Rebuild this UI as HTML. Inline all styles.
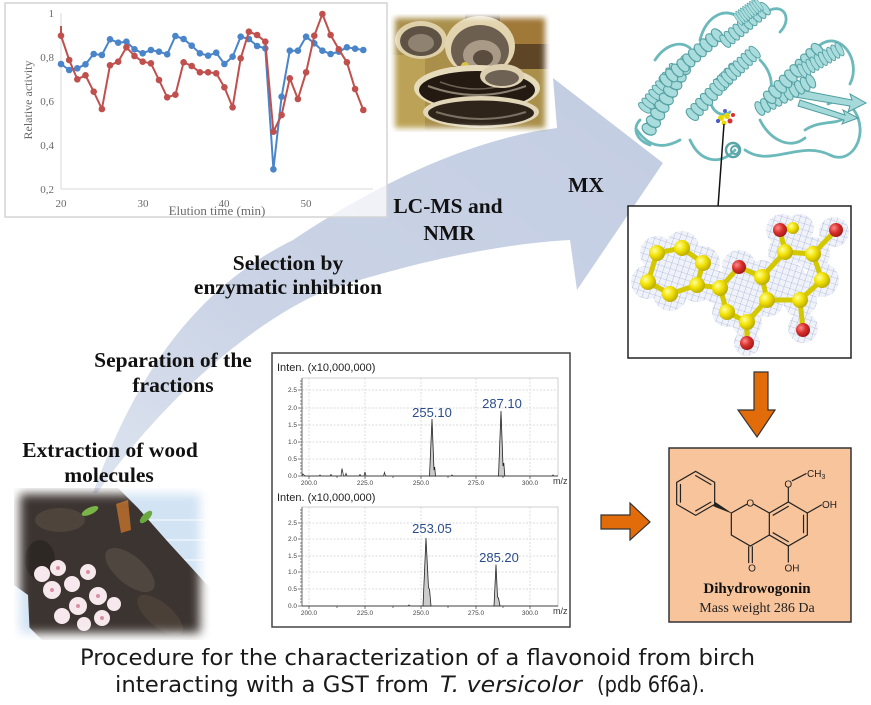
<!DOCTYPE html>
<html><head><meta charset="utf-8"><style>
html,body{margin:0;padding:0;background:#fff;}
svg{display:block;}
</style></head><body>
<svg width="871" height="705" viewBox="0 0 871 705" xmlns="http://www.w3.org/2000/svg">
<defs>
  <linearGradient id="bandg" x1="0" y1="1" x2="1" y2="0">
    <stop offset="0" stop-color="#dde4f0"/>
    <stop offset="0.35" stop-color="#cbd4e6"/>
    <stop offset="1" stop-color="#c3cde2"/>
  </linearGradient>
  <filter id="blur5" x="-20%" y="-20%" width="140%" height="140%"><feGaussianBlur stdDeviation="5"/></filter>
  <filter id="blur3" x="-20%" y="-20%" width="140%" height="140%"><feGaussianBlur stdDeviation="3"/></filter>
  <mask id="treemask"><rect x="20" y="494" width="180" height="139" fill="#fff" filter="url(#blur5)"/></mask>
  <mask id="mushmask"><rect x="395" y="18" width="150" height="110" fill="#fff" filter="url(#blur3)"/></mask>
  <radialGradient id="yb" cx="0.35" cy="0.35" r="0.7">
    <stop offset="0" stop-color="#ffff9a"/><stop offset="0.5" stop-color="#f0e000"/><stop offset="1" stop-color="#b8a800"/>
  </radialGradient>
  <radialGradient id="rb" cx="0.35" cy="0.35" r="0.7">
    <stop offset="0" stop-color="#ff8a8a"/><stop offset="0.5" stop-color="#d8302c"/><stop offset="1" stop-color="#a01818"/>
  </radialGradient>
  <pattern id="mesh" width="6" height="6" patternUnits="userSpaceOnUse" patternTransform="rotate(18)">
    <path d="M0,0 L6,0 M0,0 L0,6" stroke="#8d9bc6" stroke-width="0.6" fill="none"/>
  </pattern>
  <clipPath id="meshclip">
    <circle cx="657" cy="253" r="17"/><circle cx="682" cy="248" r="17"/><circle cx="703" cy="263" r="17"/>
    <circle cx="697" cy="285" r="17"/><circle cx="670" cy="294" r="17"/><circle cx="648" cy="282" r="17"/>
    <circle cx="675" cy="270" r="17"/><circle cx="720" cy="288" r="17"/><circle cx="739" cy="267" r="17"/>
    <circle cx="727" cy="312" r="15"/><circle cx="747" cy="322" r="15"/><circle cx="747" cy="343" r="13"/>
    <circle cx="767" cy="300" r="17"/><circle cx="762" cy="277" r="17"/><circle cx="785" cy="252" r="17"/>
    <circle cx="782" cy="230" r="16"/><circle cx="800" cy="228" r="14"/><circle cx="813" cy="254" r="17"/>
    <circle cx="834" cy="232" r="15"/><circle cx="822" cy="280" r="17"/><circle cx="800" cy="300" r="17"/>
    <circle cx="803" cy="328" r="15"/><circle cx="790" cy="280" r="17"/><circle cx="740" cy="295" r="17"/>
  </clipPath>
  <g id="hx">
    <rect x="0" y="2" width="60" height="12" fill="#9fd6d6"/>
    <ellipse cx="3" cy="8" rx="3.6" ry="7.5" fill="#a9dcdc" stroke="#56a1a4" stroke-width="1"/>
    <ellipse cx="9" cy="8" rx="3.6" ry="7.5" fill="#a9dcdc" stroke="#56a1a4" stroke-width="1"/>
    <ellipse cx="15" cy="8" rx="3.6" ry="7.5" fill="#a9dcdc" stroke="#56a1a4" stroke-width="1"/>
    <ellipse cx="21" cy="8" rx="3.6" ry="7.5" fill="#a9dcdc" stroke="#56a1a4" stroke-width="1"/>
    <ellipse cx="27" cy="8" rx="3.6" ry="7.5" fill="#a9dcdc" stroke="#56a1a4" stroke-width="1"/>
    <ellipse cx="33" cy="8" rx="3.6" ry="7.5" fill="#a9dcdc" stroke="#56a1a4" stroke-width="1"/>
    <ellipse cx="39" cy="8" rx="3.6" ry="7.5" fill="#a9dcdc" stroke="#56a1a4" stroke-width="1"/>
    <ellipse cx="45" cy="8" rx="3.6" ry="7.5" fill="#a9dcdc" stroke="#56a1a4" stroke-width="1"/>
    <ellipse cx="51" cy="8" rx="3.6" ry="7.5" fill="#a9dcdc" stroke="#56a1a4" stroke-width="1"/>
    <ellipse cx="57" cy="8" rx="3.6" ry="7.5" fill="#a9dcdc" stroke="#56a1a4" stroke-width="1"/>
  </g>
</defs>

<!-- Big curved arrow band -->
<path d="M93,493 C120,420 170,300 293,240 C360,195 460,140 557,128 L553,78 L663,163 L577,290 L570,240 C480,245 390,270 327,290 C260,318 170,390 97,493 Z" fill="url(#bandg)"/>

<!-- Top-left chart box -->
<rect x="5" y="3" width="382" height="214" fill="#fff" fill-opacity="0.72" stroke="#d4d4d4" stroke-width="1.5"/>
<g font-family="'Liberation Serif', serif" fill="#6a6a6a">
  <line x1="61" y1="13" x2="61" y2="189" stroke="#d9d9d9" stroke-width="1"/>
  <line x1="61" y1="189" x2="373" y2="189" stroke="#d9d9d9" stroke-width="1"/>
  <g font-size="11" text-anchor="end">
    <text x="54" y="17">1</text>
    <text x="54" y="61">0,8</text>
    <text x="54" y="105">0,6</text>
    <text x="54" y="149">0,4</text>
    <text x="54" y="193">0,2</text>
  </g>
  <g font-size="11" text-anchor="middle">
    <text x="61" y="207">20</text>
    <text x="143" y="207">30</text>
    <text x="224" y="207">40</text>
    <text x="306" y="207">50</text>
  </g>
  <text x="217" y="215" font-size="13" text-anchor="middle">Elution time (min)</text>
  <text transform="translate(32,100) rotate(-90)" font-size="12" text-anchor="middle">Relative activity</text>
</g>
<g fill="none" stroke-width="2" stroke-linejoin="round">
  <polyline stroke="#4a84c9" points="61,64 69.2,70 77.3,68.3 85.5,64.3 93.7,54 101.9,55 110,39.3 118.2,42.7 126.4,41.7 134.5,49.3 142.7,53.3 150.9,50 159,51.7 167.2,54.3 175.4,36 183.6,39 191.7,45.7 199.9,53.3 208.1,55.7 216.2,52.7 224.4,64 232.6,56.7 240.7,36.7 248.9,39 257.1,46 265.3,48.3 273.4,169.3 281.6,96.7 289.8,50.7 297.9,50.7 306.1,36.7 314.3,43.3 322.4,50.7 330.6,54 338.8,51.7 346.9,47.3 355.1,48.7 363.3,50"/>
</g>
<g fill="#4a84c9">
  <circle cx="61" cy="64" r="3.3"/><circle cx="69.2" cy="70" r="3.3"/><circle cx="77.3" cy="68.3" r="3.3"/><circle cx="85.5" cy="64.3" r="3.3"/><circle cx="93.7" cy="54" r="3.3"/><circle cx="101.9" cy="55" r="3.3"/><circle cx="110" cy="39.3" r="3.3"/><circle cx="118.2" cy="42.7" r="3.3"/><circle cx="126.4" cy="41.7" r="3.3"/><circle cx="134.5" cy="49.3" r="3.3"/><circle cx="142.7" cy="53.3" r="3.3"/><circle cx="150.9" cy="50" r="3.3"/><circle cx="159" cy="51.7" r="3.3"/><circle cx="167.2" cy="54.3" r="3.3"/><circle cx="175.4" cy="36" r="3.3"/><circle cx="183.6" cy="39" r="3.3"/><circle cx="191.7" cy="45.7" r="3.3"/><circle cx="199.9" cy="53.3" r="3.3"/><circle cx="208.1" cy="55.7" r="3.3"/><circle cx="216.2" cy="52.7" r="3.3"/><circle cx="224.4" cy="64" r="3.3"/><circle cx="232.6" cy="56.7" r="3.3"/><circle cx="240.7" cy="36.7" r="3.3"/><circle cx="248.9" cy="39" r="3.3"/><circle cx="257.1" cy="46" r="3.3"/><circle cx="265.3" cy="48.3" r="3.3"/><circle cx="273.4" cy="169.3" r="3.3"/><circle cx="281.6" cy="96.7" r="3.3"/><circle cx="289.8" cy="50.7" r="3.3"/><circle cx="297.9" cy="50.7" r="3.3"/><circle cx="306.1" cy="36.7" r="3.3"/><circle cx="314.3" cy="43.3" r="3.3"/><circle cx="322.4" cy="50.7" r="3.3"/><circle cx="330.6" cy="54" r="3.3"/><circle cx="338.8" cy="51.7" r="3.3"/><circle cx="346.9" cy="47.3" r="3.3"/><circle cx="355.1" cy="48.7" r="3.3"/><circle cx="363.3" cy="50" r="3.3"/>
</g>
<g fill="none" stroke-width="2" stroke-linejoin="round">
  <polyline stroke="#c0504d" points="61,26 61,35.7 69.2,60 77.3,79.3 85.5,75.3 93.7,91.7 101.9,109 110,65.3 118.2,61.7 126.4,47.3 134.5,56 142.7,61.7 150.9,63.3 159,80 167.2,97.3 175.4,94.7 183.6,62.3 191.7,66 199.9,72.3 208.1,72.3 216.2,73.3 224.4,87.3 232.6,107.3 240.7,58.3 248.9,31.7 257.1,35 265.3,41.7 273.4,131.7 281.6,115 289.8,78.3 297.9,99 306.1,72.3 314.3,35.7 322.4,14 330.6,35 338.8,49.3 346.9,62.3 355.1,89 363.3,110"/>
</g>
<g fill="#c0504d">
  <circle cx="61" cy="35.7" r="3.3"/><circle cx="69.2" cy="60" r="3.3"/><circle cx="77.3" cy="79.3" r="3.3"/><circle cx="85.5" cy="75.3" r="3.3"/><circle cx="93.7" cy="91.7" r="3.3"/><circle cx="101.9" cy="109" r="3.3"/><circle cx="110" cy="65.3" r="3.3"/><circle cx="118.2" cy="61.7" r="3.3"/><circle cx="126.4" cy="47.3" r="3.3"/><circle cx="134.5" cy="56" r="3.3"/><circle cx="142.7" cy="61.7" r="3.3"/><circle cx="150.9" cy="63.3" r="3.3"/><circle cx="159" cy="80" r="3.3"/><circle cx="167.2" cy="97.3" r="3.3"/><circle cx="175.4" cy="94.7" r="3.3"/><circle cx="183.6" cy="62.3" r="3.3"/><circle cx="191.7" cy="66" r="3.3"/><circle cx="199.9" cy="72.3" r="3.3"/><circle cx="208.1" cy="72.3" r="3.3"/><circle cx="216.2" cy="73.3" r="3.3"/><circle cx="224.4" cy="87.3" r="3.3"/><circle cx="232.6" cy="107.3" r="3.3"/><circle cx="240.7" cy="58.3" r="3.3"/><circle cx="248.9" cy="31.7" r="3.3"/><circle cx="257.1" cy="35" r="3.3"/><circle cx="265.3" cy="41.7" r="3.3"/><circle cx="273.4" cy="131.7" r="3.3"/><circle cx="281.6" cy="115" r="3.3"/><circle cx="289.8" cy="78.3" r="3.3"/><circle cx="297.9" cy="99" r="3.3"/><circle cx="306.1" cy="72.3" r="3.3"/><circle cx="314.3" cy="35.7" r="3.3"/><circle cx="322.4" cy="14" r="3.3"/><circle cx="330.6" cy="35" r="3.3"/><circle cx="338.8" cy="49.3" r="3.3"/><circle cx="346.9" cy="62.3" r="3.3"/><circle cx="355.1" cy="89" r="3.3"/><circle cx="363.3" cy="110" r="3.3"/>
</g>

<!-- Mushroom photo -->
<g mask="url(#mushmask)">
  <rect x="390" y="14" width="160" height="118" fill="#a98f4a"/>
  <rect x="465" y="14" width="85" height="55" fill="#5e4526"/>
  <rect x="390" y="55" width="35" height="75" fill="#bca256"/>
  <rect x="500" y="14" width="50" height="30" fill="#a07838"/>
  <ellipse cx="421" cy="40" rx="26" ry="19" fill="#ddcfa8"/>
  <ellipse cx="421" cy="41" rx="21" ry="15" fill="#5e5244"/>
  <ellipse cx="421" cy="43" rx="13" ry="9" fill="#8f8270"/>
  <ellipse cx="480" cy="46" rx="35" ry="30" fill="#e2d4ae"/>
  <ellipse cx="480" cy="50" rx="29" ry="25" fill="#6c5f50"/>
  <ellipse cx="482" cy="55" rx="19" ry="15" fill="#a89a86"/>
  <ellipse cx="483" cy="58" rx="10" ry="8" fill="#5a4c3e"/>
  <circle cx="455" cy="72" r="6" fill="#8a4a20"/>
  <circle cx="465" cy="66" r="4" fill="#d8c040"/>
  <ellipse cx="477" cy="88" rx="63" ry="23" fill="#e6dcbc"/>
  <ellipse cx="477" cy="90" rx="58" ry="19" fill="#241a12"/>
  <path d="M428,86 Q477,104 526,86" stroke="#8a8070" stroke-width="2" fill="none"/>
  <path d="M440,82 Q477,96 514,82" stroke="#6a6050" stroke-width="1.5" fill="none"/>
  <ellipse cx="502" cy="76" rx="22" ry="12" fill="#ddd0b0"/>
  <ellipse cx="502" cy="78" rx="17" ry="8" fill="#6e6254"/>
  <ellipse cx="481" cy="112" rx="58" ry="16" fill="#e2d6b8"/>
  <ellipse cx="481" cy="113" rx="53" ry="12.5" fill="#2e241a"/>
  <path d="M436,112 Q481,126 526,112" stroke="#7a7062" stroke-width="2" fill="none"/>
</g>

<!-- Protein cartoon -->
<g>
  <g fill="none" stroke="#6cb9bc" stroke-width="2.8" stroke-linecap="round">
    <path d="M637,130 C648,146 662,150 680,140"/>
    <path d="M690,140 C700,162 720,166 735,150"/>
    <path d="M700,40 C705,20 720,8 735,15"/>
    <path d="M770,10 C785,4 792,20 780,32"/>
    <path d="M745,150 C770,168 800,140 830,155 C850,165 866,140 858,118 C852,102 840,98 828,104"/>
    <path d="M820,45 C840,30 862,60 850,84"/>
    <path d="M760,120 C770,140 790,150 805,138"/>
    <path d="M640,120 C632,128 636,140 650,145"/>
    <path d="M710,100 C712,112 722,118 730,112"/>
    <path d="M655,60 C665,45 680,40 690,48"/>
    <path d="M760,60 C770,70 775,85 768,95"/>
    <path d="M805,130 C820,120 835,125 845,118"/>
  </g>
  <circle cx="733" cy="150" r="7" fill="none" stroke="#5aa5a8" stroke-width="2.5"/>
  <circle cx="735" cy="150" r="4" fill="none" stroke="#5aa5a8" stroke-width="2"/>
  <path d="M790,88 L852,100 L850,94 L866,103 L848,112 L850,106 L788,96 Z" fill="#a6dada" stroke="#4f9da1" stroke-width="1"/>
  <path d="M800,100 L845,115 L843,110 L858,118 L842,124 L844,120 L798,106 Z" fill="#a6dada" stroke="#4f9da1" stroke-width="1"/>
  <use href="#hx" transform="translate(643,110) rotate(-51.7) scale(0.92,1) translate(0,-8)"/>
  <use href="#hx" transform="translate(647,133) rotate(-60.5) scale(1.45,1) translate(0,-8)"/>
  <use href="#hx" transform="translate(663,83) rotate(-41.3) scale(1.27,1) translate(0,-8)"/>
  <use href="#hx" transform="translate(723,43) rotate(-39.3) scale(0.95,1) translate(0,-8)"/>
  <use href="#hx" transform="translate(737,20) rotate(-36) scale(0.47,1) translate(0,-8)"/>
  <use href="#hx" transform="translate(690,117) rotate(-46.8) scale(1.15,1) translate(0,-8)"/>
  <use href="#hx" transform="translate(717,87) rotate(-42.8) scale(0.9,1) translate(0,-8)"/>
  <use href="#hx" transform="translate(757,110) rotate(-28.2) scale(1.07,1) translate(0,-8)"/>
  <use href="#hx" transform="translate(767,100) rotate(-45) scale(1.25,1) translate(0,-8)"/>
  <use href="#hx" transform="translate(800,72) rotate(-30) scale(0.8,1) translate(0,-8)"/>
  <g>
    <circle cx="721" cy="118" r="3" fill="#e8d800"/>
    <circle cx="727" cy="116" r="3" fill="#e8d800"/>
    <circle cx="730" cy="121" r="2.5" fill="#d83030"/>
    <circle cx="724" cy="123" r="2.5" fill="#e8d800"/>
    <circle cx="718" cy="121" r="2" fill="#4858c8"/>
    <circle cx="733" cy="115" r="2" fill="#d83030"/>
    <circle cx="725" cy="111" r="2" fill="#5060d0"/>
  </g>
</g>
<line x1="724" y1="124" x2="718" y2="207" stroke="#111" stroke-width="1.5"/>

<!-- Density box -->
<rect x="628" y="206" width="223" height="152" fill="#fff" stroke="#222" stroke-width="1.5"/>
<g clip-path="url(#meshclip)">
  <rect x="628" y="206" width="223" height="152" fill="#f0f2f9"/>
  <rect x="628" y="206" width="223" height="152" fill="url(#mesh)"/>
</g>
<g stroke="#d4c800" stroke-width="5" stroke-linecap="round">
  <path d="M657,253 L682,248 L703,263 L697,285 L670,294 L648,282 Z" fill="none"/>
  <path d="M697,285 L720,288 L739,267 L762,277 M720,288 L727,312 L747,322 L747,343 M747,322 L767,300 L762,277 L785,252 L780,230 L793,228 M785,252 L813,254 L836,230 M813,254 L822,280 L800,300 L803,330 M800,300 L767,300" fill="none"/>
</g>
<g>
  <circle cx="793" cy="228" r="6" fill="url(#yb)"/>
  <circle cx="657" cy="253" r="8" fill="url(#yb)"/><circle cx="682" cy="248" r="8" fill="url(#yb)"/><circle cx="703" cy="263" r="8" fill="url(#yb)"/>
  <circle cx="697" cy="285" r="8" fill="url(#yb)"/><circle cx="670" cy="294" r="8" fill="url(#yb)"/><circle cx="648" cy="282" r="8" fill="url(#yb)"/>
  <circle cx="720" cy="288" r="8" fill="url(#yb)"/><circle cx="727" cy="312" r="8" fill="url(#yb)"/><circle cx="747" cy="322" r="8" fill="url(#yb)"/>
  <circle cx="767" cy="300" r="8" fill="url(#yb)"/><circle cx="762" cy="277" r="8" fill="url(#yb)"/><circle cx="785" cy="252" r="8" fill="url(#yb)"/>
  <circle cx="813" cy="254" r="8" fill="url(#yb)"/><circle cx="822" cy="280" r="8" fill="url(#yb)"/><circle cx="800" cy="300" r="8" fill="url(#yb)"/>
  <circle cx="739" cy="267" r="7" fill="url(#rb)"/><circle cx="747" cy="343" r="7" fill="url(#rb)"/><circle cx="780" cy="230" r="7" fill="url(#rb)"/>
  <circle cx="836" cy="230" r="7" fill="url(#rb)"/><circle cx="803" cy="330" r="7" fill="url(#rb)"/>
</g>

<!-- Down orange arrow -->
<path d="M754,372 L768,372 L768,410 L775,410 L757,437 L738,410 L754,410 Z" fill="#e36c0a" stroke="#333" stroke-width="1.2"/>

<!-- Dihydrowogonin box -->
<rect x="669" y="448" width="182" height="174" fill="#f8c49b" stroke="#333" stroke-width="1.5"/>
<g transform="translate(600,440) scale(0.33333)" stroke="#222" stroke-width="3.6" fill="none" stroke-linecap="round">
  <path d="M287,94 L344,127 L344,193 L287,226 L230,193 L230,127 Z"/>
  <path d="M287,107 L332.6,133.6 M332.6,186.4 L287,212.8 M241.4,186.4 L241.4,133.6"/>
  <polygon points="394,219 346,187 341,198" fill="#222" stroke-width="1.5"/>
  <path d="M394,219 L440,193 M462,193 L508,219 M394,219 L394,285 L451,318 L508,285"/>
  <path d="M508,219 L565,186 L622,219 L622,285 L565,318 L508,285 Z"/>
  <path d="M519.4,225.6 L565,199.2 M610.6,225.6 L610.6,278.4 M565,304.8 L519.4,278.4"/>
  <path d="M446,320 L446,368 M457,320 L457,368"/>
  <path d="M565,186 L565,143 M577,122 L618,101"/>
  <path d="M622,219 L664,195"/>
  <path d="M565,318 L565,366"/>
</g>
<g font-family="'Liberation Sans', sans-serif" font-size="10" fill="#222">
  <text x="750.3" y="506.5" text-anchor="middle">O</text>
  <text x="788.3" y="487.5" text-anchor="middle">O</text>
  <text x="807" y="477">CH<tspan font-size="7" dy="2">3</tspan></text>
  <text x="822" y="508">OH</text>
  <text x="752" y="571.5" text-anchor="middle">O</text>
  <text x="792" y="571.5" text-anchor="middle">OH</text>
</g>
<text x="757" y="593" font-family="'Liberation Serif', serif" font-weight="bold" font-size="15" fill="#111" text-anchor="middle">Dihydrowogonin</text>
<text x="757" y="612" font-family="'Liberation Serif', serif" font-size="14" fill="#222" text-anchor="middle">Mass weight 286 Da</text>

<!-- Right orange arrow -->
<path d="M601,515 L630,515 L630,503 L650,522 L630,540 L630,529 L601,529 Z" fill="#e36c0a" stroke="#333" stroke-width="1.2"/>

<!-- Mass spectrum box -->
<rect x="272" y="353" width="298" height="274" fill="#fff" stroke="#444" stroke-width="1.5"/>
<g font-family="'Liberation Sans', sans-serif">
  <text x="277" y="371" font-size="11" fill="#222">Inten. (x10,000,000)</text>
  <text x="277" y="501" font-size="11" fill="#222">Inten. (x10,000,000)</text>
  <g stroke="#d0d0d0" stroke-width="0.7" stroke-dasharray="2,1.5">
    <line x1="302" y1="390" x2="558" y2="390"/><line x1="302" y1="408" x2="558" y2="408"/><line x1="302" y1="425" x2="558" y2="425"/><line x1="302" y1="442" x2="558" y2="442"/><line x1="302" y1="459" x2="558" y2="459"/>
    <line x1="309" y1="378" x2="309" y2="476"/><line x1="365" y1="378" x2="365" y2="476"/><line x1="421" y1="378" x2="421" y2="476"/><line x1="476" y1="378" x2="476" y2="476"/><line x1="530" y1="378" x2="530" y2="476"/>
    <line x1="302" y1="523" x2="558" y2="523"/><line x1="302" y1="539" x2="558" y2="539"/><line x1="302" y1="556" x2="558" y2="556"/><line x1="302" y1="572" x2="558" y2="572"/><line x1="302" y1="589" x2="558" y2="589"/>
    <line x1="309" y1="507" x2="309" y2="606"/><line x1="365" y1="507" x2="365" y2="606"/><line x1="421" y1="507" x2="421" y2="606"/><line x1="476" y1="507" x2="476" y2="606"/><line x1="530" y1="507" x2="530" y2="606"/>
  </g>
  <rect x="302" y="378" width="256" height="98" fill="none" stroke="#c4c4c4" stroke-width="0.8"/>
  <rect x="302" y="507" width="256" height="99" fill="none" stroke="#c4c4c4" stroke-width="0.8"/>
  <g stroke="#555" stroke-width="0.8">
    <line x1="302" y1="378" x2="302" y2="476"/><line x1="302" y1="476" x2="558" y2="476"/>
    <line x1="302" y1="507" x2="302" y2="606"/><line x1="302" y1="606" x2="558" y2="606"/>
    <path d="M298,390 H302 M298,408 H302 M298,425 H302 M298,442 H302 M298,459 H302 M298,476 H302 M300,381 H302 M300,384 H302 M300,387 H302 M300,394 H302 M300,397 H302 M300,401 H302 M300,404 H302 M300,411 H302 M300,415 H302 M300,418 H302 M300,421 H302 M300,428 H302 M300,432 H302 M300,435 H302 M300,439 H302 M300,445 H302 M300,449 H302 M300,452 H302 M300,456 H302 M300,463 H302 M300,466 H302 M300,469 H302 M300,473 H302"/>
    <path d="M298,523 H302 M298,539 H302 M298,556 H302 M298,572 H302 M298,589 H302 M298,606 H302 M300,510 H302 M300,513 H302 M300,516 H302 M300,519 H302 M300,526 H302 M300,529 H302 M300,533 H302 M300,536 H302 M300,543 H302 M300,546 H302 M300,549 H302 M300,552 H302 M300,559 H302 M300,562 H302 M300,566 H302 M300,569 H302 M300,576 H302 M300,579 H302 M300,582 H302 M300,586 H302 M300,592 H302 M300,596 H302 M300,599 H302 M300,602 H302"/>
    <path d="M309,476 V479 M365,476 V479 M421,476 V479 M476,476 V479 M530,476 V479 M337,476 V478 M393,476 V478 M448,476 V478 M503,476 V478"/>
    <path d="M309,606 V609 M365,606 V609 M421,606 V609 M476,606 V609 M530,606 V609 M337,606 V608 M393,606 V608 M448,606 V608 M503,606 V608"/>
  </g>
  <g font-size="6.5" fill="#444" text-anchor="end">
    <text x="297" y="392">2.5</text><text x="297" y="410">2.0</text><text x="297" y="427">1.5</text><text x="297" y="444">1.0</text><text x="297" y="461">0.5</text><text x="297" y="478">0.0</text>
    <text x="297" y="525">2.5</text><text x="297" y="541">2.0</text><text x="297" y="558">1.5</text><text x="297" y="574">1.0</text><text x="297" y="591">0.5</text><text x="297" y="608">0.0</text>
  </g>
  <g font-size="6.5" fill="#444" text-anchor="middle">
    <text x="309" y="485">200.0</text><text x="365" y="485">225.0</text><text x="421" y="485">250.0</text><text x="476" y="485">275.0</text><text x="530" y="485">300.0</text>
    <text x="309" y="615">200.0</text><text x="365" y="615">225.0</text><text x="421" y="615">250.0</text><text x="476" y="615">275.0</text><text x="530" y="615">300.0</text>
  </g>
  <text x="553" y="484" font-size="9" fill="#333">m/z</text>
  <text x="553" y="614" font-size="9" fill="#333">m/z</text>
  <path d="M302,476 L303,474 L305,476 L319,476 L320,475 L321,476 L330,476 L331,474.5 L332,476 L341,476 L342,468.5 L343.5,476 L345,476 L346,473.5 L347,476 L359,476 L360,474.5 L361,476 L364,476 L365,472 L366,476 L383.5,476 L384.5,472.5 L385.5,476 L451,476 L452,475 L453,476 L552,476 L553,475 L554,476 L558,476" fill="none" stroke="#333" stroke-width="0.8"/>
  <polygon points="429.5,476 432,419 434,470 434.7,467 435.5,476" fill="#ccc" stroke="#222" stroke-width="0.8"/>
  <polygon points="498.5,476 501,411 503,466 503.8,463 504.8,476" fill="#ccc" stroke="#222" stroke-width="0.8"/>
  <path d="M302,606 L408,606 L409,605 L410,606 L558,606" fill="none" stroke="#333" stroke-width="0.8"/>
  <polygon points="423,606 426,538 428.5,588 429.5,589 431,606" fill="#ccc" stroke="#222" stroke-width="0.8"/>
  <polygon points="494,606 496,564.5 497.5,597 498.5,598 500,606" fill="#ccc" stroke="#222" stroke-width="0.8"/>
  <g font-size="13" fill="#2b4c8c" text-anchor="middle">
    <text x="432" y="417">255.10</text>
    <text x="502" y="408">287.10</text>
    <text x="432" y="533">253.05</text>
    <text x="499" y="562">285.20</text>
  </g>
</g>

<!-- Tree photo -->
<g mask="url(#treemask)">
  <rect x="14" y="488" width="196" height="152" fill="#d2e3f4"/>
  <g stroke="#e6f0fa" stroke-width="2">
    <line x1="120" y1="520" x2="210" y2="520"/><line x1="140" y1="540" x2="210" y2="540"/><line x1="150" y1="560" x2="210" y2="560"/>
  </g>
  <polygon points="14,488 118,488 138,508 168,542 210,588 210,640 42,640 14,612" fill="#3c3430"/>
  <ellipse cx="60" cy="520" rx="25" ry="12" fill="#4e443c"/>
  <ellipse cx="130" cy="570" rx="30" ry="14" fill="#504640" transform="rotate(40,130,570)"/>
  <ellipse cx="160" cy="615" rx="28" ry="12" fill="#4a4038" transform="rotate(40,160,615)"/>
  <ellipse cx="40" cy="560" rx="15" ry="20" fill="#2e2824"/>
  <polygon points="116,504 128,500 131,530 121,533" fill="#a8652c"/>
  <ellipse cx="90" cy="511" rx="9" ry="3.5" fill="#7ab448" transform="rotate(-25,90,511)"/>
  <ellipse cx="146" cy="517" rx="8" ry="3.5" fill="#6aa840" transform="rotate(-45,146,517)"/>
  <polygon points="14,585 28,595 30,640 14,640" fill="#d2e3f4"/>
  <g fill="#f6e8ec">
    <circle cx="42" cy="574" r="8"/><circle cx="58" cy="568" r="8"/><circle cx="52" cy="590" r="9"/>
    <circle cx="72" cy="584" r="8"/><circle cx="88" cy="572" r="8"/><circle cx="98" cy="596" r="9"/>
    <circle cx="78" cy="606" r="9"/><circle cx="62" cy="616" r="8"/><circle cx="102" cy="618" r="8"/><circle cx="114" cy="604" r="7"/>
    <circle cx="84" cy="624" r="7"/>
  </g>
  <g fill="#d890a4">
    <circle cx="58" cy="568" r="2"/><circle cx="52" cy="590" r="2"/><circle cx="88" cy="572" r="2"/><circle cx="98" cy="596" r="2"/><circle cx="78" cy="606" r="2"/><circle cx="102" cy="618" r="2"/>
  </g>
</g>

<!-- Bold step labels -->
<g font-family="'Liberation Serif', serif" font-weight="bold" font-size="21.5" fill="#111" text-anchor="middle">
  <text x="448" y="213">LC-MS and</text>
  <text x="449" y="240">NMR</text>
  <text x="586" y="192">MX</text>
  <text x="288" y="270">Selection by</text>
  <text x="288" y="294">enzymatic inhibition</text>
  <text x="173" y="367">Separation of the</text>
  <text x="173" y="392">fractions</text>
  <text x="110" y="457">Extraction of wood</text>
  <text x="109" y="482">molecules</text>
</g>

<!-- Caption -->
<g font-family="'DejaVu Sans', 'Liberation Sans', sans-serif" font-size="22" fill="#1a1a1a">
  <text x="80" y="665" textLength="675" lengthAdjust="spacingAndGlyphs">Procedure for the characterization of a flavonoid from birch</text>
  <text x="115" y="692" textLength="314" lengthAdjust="spacingAndGlyphs">interacting with a GST from</text>
  <text x="440" y="692" font-style="italic" textLength="142" lengthAdjust="spacingAndGlyphs">T. versicolor</text>
  <text x="597" y="692" textLength="108" lengthAdjust="spacingAndGlyphs">(pdb 6f6a).</text>
</g>
</svg>
</body></html>
